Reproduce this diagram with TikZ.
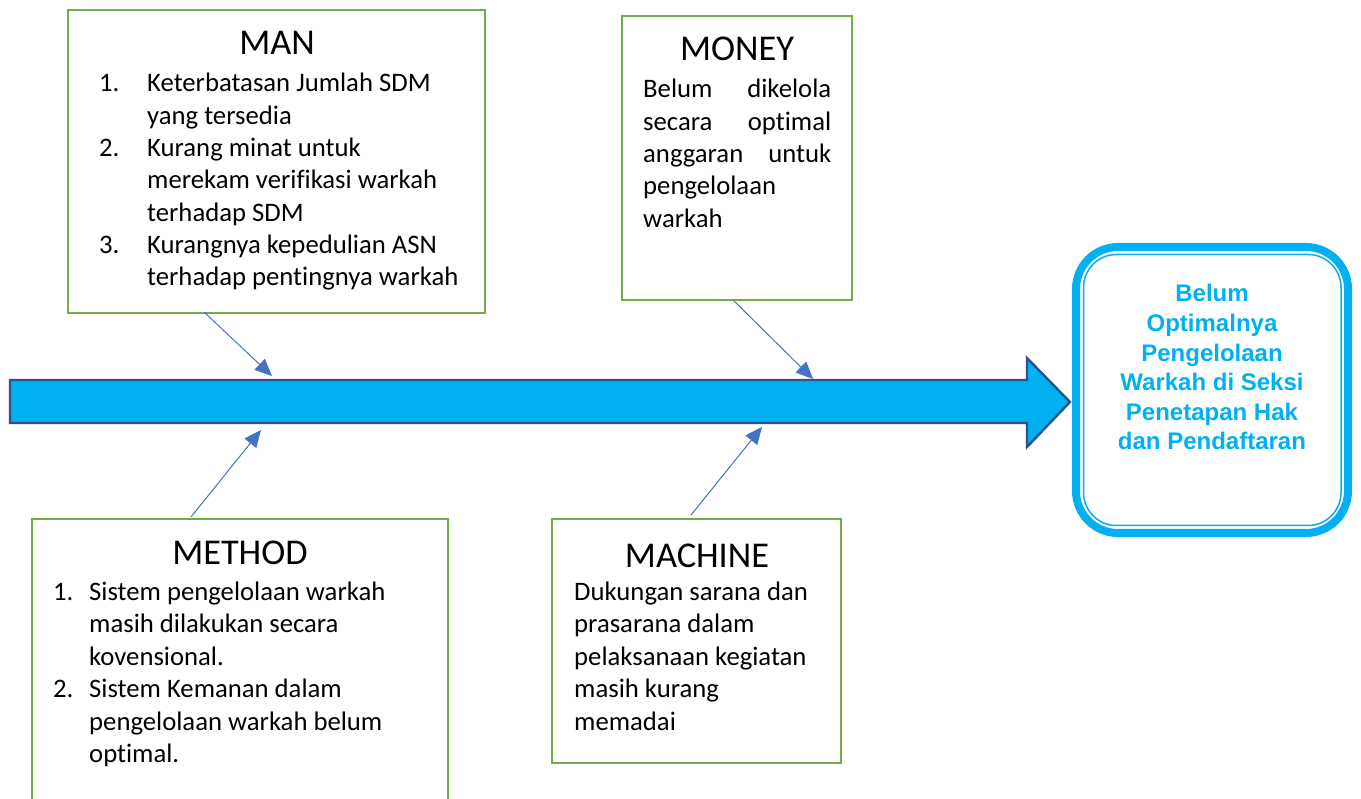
\documentclass[tikz,border=0pt]{standalone}
\usepackage{fontspec}
\setmainfont{Carlito}[Ligatures={NoCommon}]
\newfontfamily\resfont{Liberation Sans}
\usetikzlibrary{arrows.meta}
\definecolor{boxgreen}{HTML}{70AD47}
\definecolor{linkblue}{HTML}{4472C4}
\definecolor{spinecyan}{HTML}{00B0F0}
\definecolor{spineedge}{HTML}{2F528F}
\tikzset{
  catbox/.style={draw=boxgreen, line width=2.2pt, fill=white, inner sep=0pt},
  title/.style={anchor=base, inner sep=0pt, font=\fontsize{36.3}{42}\selectfont},
  txt/.style={anchor=base west, inner sep=0pt, font=\fontsize{26.7}{32}\selectfont},
  restxt/.style={anchor=base, inner sep=0pt, text=spinecyan, font=\resfont\bfseries\fontsize{24}{29}\selectfont},
  link/.style={draw=linkblue, line width=1pt, -{Triangle[length=17pt,width=15pt]}}
}
\begin{document}
\begin{tikzpicture}[x=1pt,y=-1pt]
\useasboundingbox (0,0) rectangle (1361,799);
\fill[white] (0,0) rectangle (1361,799);

% main spine arrow
\draw[fill=spinecyan, draw=spineedge, line width=2.4pt, line join=miter]
  (10,380) -- (1027,380) -- (1027,358) -- (1070,402) -- (1027,447) -- (1027,423) -- (10,423) -- cycle;

% result box with thick-thin frame
\draw[spinecyan, line width=8pt, rounded corners=42pt] (1076,247) rectangle (1348,533);
\draw[spinecyan, line width=1.5pt, rounded corners=33pt] (1083.5,254.5) rectangle (1341,525.5);
\node[inner sep=0pt, minimum width=272pt, minimum height=286pt] (result) at (1212,390) {};
\foreach \t [count=\i] in {Belum, Optimalnya, Pengelolaan, Warkah di Seksi, Penetapan Hak, dan Pendaftaran}
  \node[restxt] (res-\i) at (1212, 302+29.6*\i-29.6) {\t};

% cause boxes
\node[catbox, minimum width=417pt, minimum height=303pt] (man) at (276.5,161.5) {};
\node[catbox, minimum width=230pt, minimum height=284pt] (money) at (737,158) {};
\node[catbox, minimum width=416pt, minimum height=320pt] (method) at (240,679) {};
\node[catbox, minimum width=289pt, minimum height=244pt] (machine) at (696.5,641) {};

% MAN
\node[title] (man-t) at (277,55) {MAN};
\foreach \t [count=\i] in {Keterbatasan Jumlah SDM, yang tersedia, Kurang minat untuk, merekam verifikasi warkah, terhadap SDM, Kurangnya kepedulian ASN, terhadap pentingnya warkah}
  \node[txt] (man-\i) at (147, 92+32.3*\i-32.3) {\t};
\node[txt] (man-n1) at (99,92) {1.};
\node[txt] (man-n2) at (99,156.6) {2.};
\node[txt] (man-n3) at (99,253.5) {3.};

% MONEY
\node[title] (money-t) at (737,61) {MONEY};
\node[txt] (money-1) at (643,98) {\makebox[188pt][s]{Belum dikelola}};
\node[txt] (money-2) at (643,130.3) {\makebox[188pt][s]{secara optimal}};
\node[txt] (money-3) at (643,162.6) {\makebox[188pt][s]{anggaran untuk}};
\node[txt] (money-4) at (643,194.9) {pengelolaan};
\node[txt] (money-5) at (643,227.2) {warkah};

% METHOD
\node[title] (method-t) at (240,565) {METHOD};
\foreach \t [count=\i] in {Sistem pengelolaan warkah, masih dilakukan secara, kovensional., Sistem Kemanan dalam, pengelolaan warkah belum, optimal.}
  \node[txt] (method-\i) at (89, 600+32.5*\i-32.5) {\t};
\node[txt] (method-n1) at (53,600) {1.};
\node[txt] (method-n2) at (53,697.5) {2.};

% MACHINE
\node[title] (machine-t) at (697,567) {MACHINE};
\foreach \t [count=\i] in {Dukungan sarana dan, prasarana dalam, pelaksanaan kegiatan, masih kurang, memadai}
  \node[txt] (machine-\i) at (574, 600+32.5*\i-32.5) {\t};

% links from the cause boxes to the spine
\coordinate (man-from) at (204,312);
\coordinate (man-to) at (272,376);
\coordinate (money-from) at (733,300);
\coordinate (money-to) at (813,379);
\coordinate (method-from) at (191,517);
\coordinate (method-to) at (261,430);
\coordinate (machine-from) at (691,515);
\coordinate (machine-to) at (762,427);
\draw[link] (man-from) -- (man-to);
\draw[link] (money-from) -- (money-to);
\draw[link] (method-from) -- (method-to);
\draw[link] (machine-from) -- (machine-to);
\end{tikzpicture}
\end{document}
